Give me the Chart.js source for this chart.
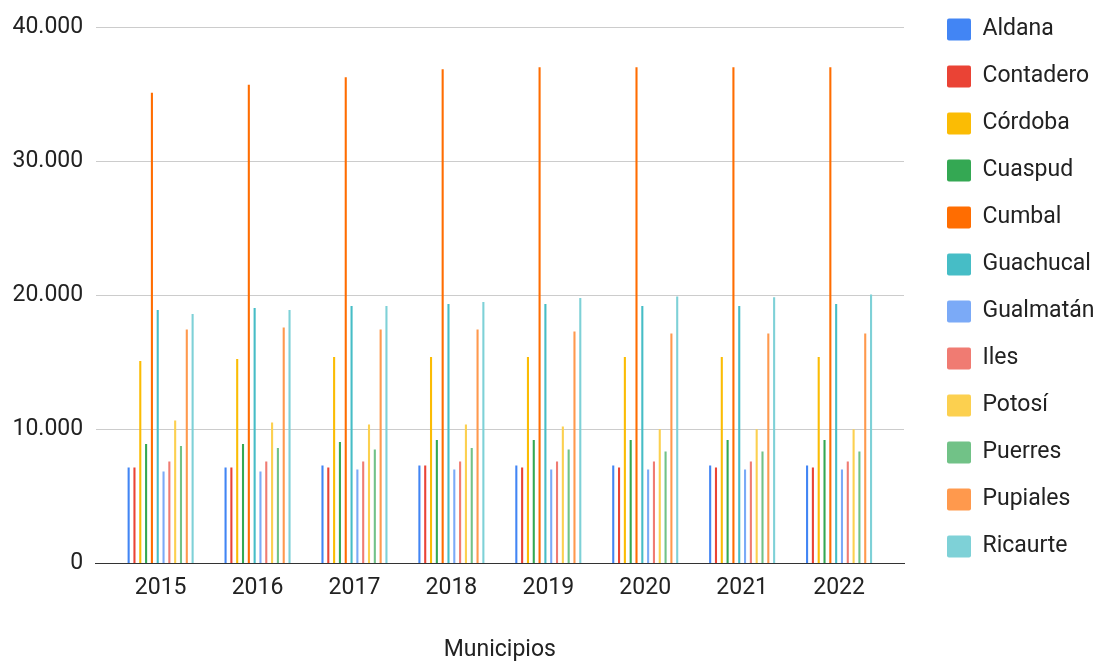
<!DOCTYPE html>
<html>
<head>
<meta charset="utf-8">
<script src="https://cdn.jsdelivr.net/npm/chart.js@4/dist/chart.umd.min.js"></script>
<style>
  html, body { margin: 0; padding: 0; background: #fff; }
  #wrap { width: 1107px; height: 662px; }
</style>
</head>
<body>
<div id="wrap"><canvas id="municipiosChart" width="1107" height="662"></canvas></div>
<script>
const years = [2015, 2016, 2017, 2018, 2019, 2020, 2021, 2022];

const aldana    = [7150, 7150, 7300, 7300, 7300, 7300, 7300, 7300];
const contadero = [7150, 7150, 7150, 7300, 7150, 7150, 7150, 7150];
const cordoba   = [15100, 15250, 15400, 15400, 15400, 15400, 15400, 15400];
const cuaspud   = [8900, 8900, 9050, 9200, 9200, 9200, 9200, 9200];
const cumbal    = [35100, 35700, 36250, 36850, 37000, 37000, 37000, 37000];
const guachucal = [18900, 19050, 19200, 19350, 19350, 19200, 19200, 19350];
const gualmatan = [6850, 6850, 7000, 7000, 7000, 7000, 7000, 7000];
const iles      = [7600, 7600, 7600, 7600, 7600, 7600, 7600, 7600];
const potosi    = [10650, 10500, 10350, 10350, 10200, 10000, 10000, 10000];
const puerres   = [8750, 8600, 8500, 8600, 8500, 8350, 8350, 8350];
const pupiales  = [17450, 17600, 17450, 17450, 17300, 17150, 17150, 17150];
const ricaurte  = [18600, 18900, 19200, 19500, 19800, 19900, 19850, 20050];

const yTicks = [0, 10000, 20000, 30000, 40000];

const series = [
  ['Aldana', aldana, '#4285F4'],
  ['Contadero', contadero, '#EA4335'],
  ['Córdoba', cordoba, '#FBBC04'],
  ['Cuaspud', cuaspud, '#34A853'],
  ['Cumbal', cumbal, '#FF6D01'],
  ['Guachucal', guachucal, '#46BDC6'],
  ['Gualmatán', gualmatan, '#7BAAF7'],
  ['Iles', iles, '#F07B72'],
  ['Potosí', potosi, '#FCD04F'],
  ['Puerres', puerres, '#71C287'],
  ['Pupiales', pupiales, '#FF994D'],
  ['Ricaurte', ricaurte, '#7ED1D7']
];

const fmt = v => String(v).replace(/\B(?=(\d{3})+(?!\d))/g, '.');
const FONT = 'Roboto, Arial, sans-serif';

// legend: keep plot right edge at ~904 and pull the item list up/right
const legendTweak = {
  id: 'legendTweak',
  beforeLayout(chart) {
    const lg = chart.legend;
    if (lg && !lg._wrapped) {
      const fit = lg.fit;
      lg.fit = function () { fit.call(this); this.width = 203; };
      lg._wrapped = true;
    }
  },
  afterLayout(chart) {
    const lg = chart.legend;
    if (!lg) return;
    lg.left += 19;
    lg.right += 19;
    lg.top -= 33;
  }
};

new Chart(document.getElementById('municipiosChart').getContext('2d'), {
  type: 'bar',
  data: {
    labels: years,
    datasets: series.map(([name, values, color]) => ({
      label: name,
      data: values,
      backgroundColor: color,
      borderWidth: 0,
      categoryPercentage: 0.72,
      barPercentage: 0.36
    }))
  },
  options: {
    responsive: false,
    animation: false,
    devicePixelRatio: 1,
    layout: { padding: { top: 27, right: 0, bottom: 0, left: 0 } },
    plugins: {
      tooltip: { enabled: false },
      legend: {
        position: 'right',
        align: 'start',
        labels: {
          boxWidth: 24,
          boxHeight: 22,
          padding: 24,
          useBorderRadius: true,
          borderRadius: 2,
          color: '#222',
          font: { family: FONT, size: 23 }
        }
      }
    },
    scales: {
      x: {
        type: 'linear',
        offset: false,
        min: years[0] - 0.67,
        max: years[years.length - 1] + 0.67,
        afterBuildTicks: scale => { scale.ticks = years.map(y => ({ value: y })); },
        grid: { display: false, drawTicks: false },
        border: { display: true, color: '#333', width: 1 },
        ticks: {
          autoSkip: false,
          maxRotation: 0,
          padding: 11,
          color: '#222',
          font: { family: FONT, size: 23 },
          callback: v => String(v)
        },
        title: {
          display: true,
          text: 'Municipios',
          color: '#222',
          padding: { top: 26, bottom: 0 },
          font: { family: FONT, size: 23, lineHeight: 1 }
        }
      },
      y: {
        min: yTicks[0],
        max: yTicks[yTicks.length - 1],
        afterBuildTicks: scale => { scale.ticks = yTicks.map(v => ({ value: v })); },
        border: { display: false },
        grid: {
          drawTicks: false,
          color: ctx => (ctx.tick && ctx.tick.value === 0) ? '#333' : '#cccccc',
          lineWidth: 1
        },
        ticks: {
          padding: 12.5,
          color: '#222',
          font: { family: FONT, size: 23 },
          callback: v => fmt(v)
        }
      }
    }
  },
  plugins: [legendTweak]
});
</script>
</body>
</html>
